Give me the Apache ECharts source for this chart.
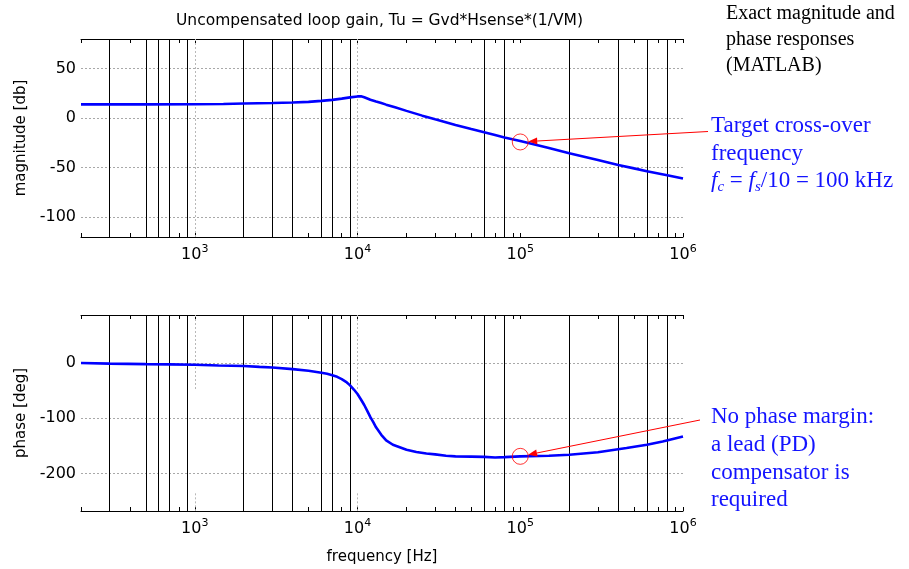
<!DOCTYPE html>
<html><head><meta charset="utf-8">
<script src="https://cdn.jsdelivr.net/npm/echarts@6/dist/echarts.min.js"></script>
<style>html,body{margin:0;padding:0;background:#fff}#c{width:909px;height:569px}</style>
</head><body><div id="c"></div>
<script>
// ---- data ----
const magFreq = [200, 500, 1000, 1500, 2000, 3000, 4000, 5000, 6000, 7000, 8000, 9000, 10000, 10500, 11000, 12000, 13000, 14000, 15000, 17000, 20000, 25000, 30000, 40000, 50000, 60000, 70000, 80000, 100000, 150000, 200000, 300000, 400000, 500000, 600000, 800000, 1000000];
const magDb   = [14, 14, 14.1, 14.3, 14.8, 15.3, 15.8, 16.5, 17.5, 18.5, 19.8, 21, 22, 22.2, 21.2, 18.7, 16.9, 15.3, 13.7, 11, 7.4, 2.6, -1.1, -6.8, -10.9, -14.2, -17, -19.4, -23, -30, -35.3, -42.2, -47.2, -50.7, -53.5, -57.6, -61];
const phaseFreq = [200, 300, 500, 700, 1000, 1400, 2000, 2500, 3000, 4000, 5000, 6000, 6500, 7000, 7500, 8000, 8500, 9000, 9500, 10000, 10500, 11000, 11500, 12000, 12500, 13000, 14000, 15000, 16500, 18000, 20000, 23000, 26500, 30000, 35000, 40000, 50000, 60000, 70000, 80000, 100000, 150000, 200000, 300000, 450000, 600000, 750000, 1000000];
const phaseDeg  = [0, -1, -2, -2.5, -3, -4.5, -5.5, -7, -8, -11, -14, -17.5, -19.5, -22, -25, -29, -34, -40.5, -48, -56, -66, -76, -87, -98, -107, -116.5, -130, -140, -148, -152, -157, -161, -164, -165.5, -168, -169, -169.5, -170, -171, -170.5, -169, -168, -166, -161.5, -154, -148, -142, -133];

const decadeTicks = [1000, 10000, 100000, 1000000];
const minorTicks = [200, 300, 400, 500, 600, 700, 800, 900, 1000,
  2000, 3000, 4000, 5000, 6000, 7000, 8000, 9000, 10000,
  20000, 30000, 40000, 50000, 60000, 70000, 80000, 90000, 100000,
  200000, 300000, 400000, 500000, 600000, 700000, 800000, 900000, 1000000];
const blackLineFreqs = [300, 500, 600, 700, 900, 2000, 3000, 4000, 6000, 7000, 9000, 60000, 80000, 200000, 400000, 600000, 800000];
const magTicks = [-100, -50, 0, 50];
const phaseTicks = [-200, -100, 0];
const magRange = [-120, 80];
const phaseRange = [-268, 87];
const crossMag = [100000, -24];
const crossPhase = [100000, -169];

const titleText = 'Uncompensated loop gain, Tu = Gvd*Hsense*(1/VM)';
const noteTop = 'Exact magnitude and\nphase responses\n(MATLAB)';
const noteMag = 'Target cross-over\nfrequency';
const notePhase = 'No phase margin:\na lead (PD)\ncompensator is\nrequired';

// ---- chart ----
const SANS = 'DejaVu Sans';
const SERIF = 'Liberation Serif';
const BLUE = '#1414ff';
const chart = echarts.init(document.getElementById('c'), null, {renderer: 'canvas'});

function xAxisDef(grid, pos, withLabels, name) {
  return {
    type: 'log', logBase: 10, gridIndex: grid, position: pos, min: 200, max: 1000000,
    name: name || '', nameLocation: 'middle', nameGap: 39,
    nameTextStyle: {fontFamily: SANS, fontSize: 15, color: '#000'},
    axisLine: {show: true, onZero: false, lineStyle: {color: '#000', width: 1}},
    axisTick: {show: true, inside: true, length: 4, customValues: minorTicks, lineStyle: {color: '#000'}},
    axisLabel: {
      show: withLabels, customValues: decadeTicks, margin: 7,
      formatter: v => '{b|10}{s|' + Math.round(Math.log10(v)) + '}',
      rich: {
        b: {fontFamily: SANS, fontSize: 16, color: '#000', lineHeight: 22},
        s: {fontFamily: SANS, fontSize: 11, color: '#000', lineHeight: 11, verticalAlign: 'top'}
      }
    },
    splitLine: {show: false}, minorTick: {show: false}
  };
}
function yAxisDef(grid, range, ticks, name) {
  return {
    type: 'value', gridIndex: grid, min: range[0], max: range[1],
    name: name, nameLocation: 'middle', nameGap: 47,
    nameTextStyle: {fontFamily: SANS, fontSize: 15, color: '#000'},
    axisLine: {show: false}, axisTick: {show: false, customValues: ticks},
    axisLabel: {customValues: ticks, fontFamily: SANS, fontSize: 16, color: '#000', margin: 5},
    splitLine: {show: true, lineStyle: {color: '#a8a8a8', type: [2, 2], width: 1}}
  };
}
const dotted = {color: '#b8b8b8', type: [2, 2], width: 1};
function blackLines() {
  return blackLineFreqs.map(f => ({xAxis: f}));
}

const option = {
  animation: false,
  backgroundColor: '#fff',
  title: {text: titleText, left: 171, top: 8,
    textStyle: {fontFamily: SANS, fontSize: 15.5, fontWeight: 'normal', color: '#000'}},
  grid: [
    {left: 81, top: 39, width: 602, height: 198},
    {left: 81, top: 315, width: 602, height: 196}
  ],
  xAxis: [
    xAxisDef(0, 'bottom', true),
    xAxisDef(0, 'top', false),
    xAxisDef(1, 'bottom', true, 'frequency [Hz]'),
    xAxisDef(1, 'top', false)
  ],
  yAxis: [
    yAxisDef(0, magRange, magTicks, 'magnitude [db]'),
    yAxisDef(1, phaseRange, phaseTicks, 'phase [deg]')
  ],
  series: [
    {
      type: 'line', xAxisIndex: 0, yAxisIndex: 0, showSymbol: false,
      data: magFreq.map((f, i) => [f, magDb[i]]),
      lineStyle: {color: '#0000ff', width: 2.6}, z: 5,
      markLine: {
        silent: true, symbol: ['none', 'none'], label: {show: false},
        lineStyle: {color: '#000', width: 1, type: 'solid'},
        data: blackLines().concat(
          decadeTicks.slice(0, 2).map(f => ({xAxis: f, lineStyle: dotted})))
      }
    },
    {
      type: 'line', xAxisIndex: 2, yAxisIndex: 1, showSymbol: false,
      data: phaseFreq.map((f, i) => [f, phaseDeg[i]]),
      lineStyle: {color: '#0000ff', width: 2.6}, z: 5,
      markLine: {
        silent: true, symbol: ['none', 'none'], label: {show: false},
        lineStyle: {color: '#000', width: 1, type: 'solid'},
        data: blackLines().concat(
          decadeTicks.slice(0, 2).map(f => [{coord: [f, phaseRange[1]], lineStyle: dotted}, {coord: [f, -48]}]),
          decadeTicks.slice(0, 2).map(f => [{coord: [f, -236], lineStyle: dotted}, {coord: [f, phaseRange[0]]}]))
      }
    },
    {
      type: 'scatter', xAxisIndex: 0, yAxisIndex: 0, data: [crossMag], symbol: 'circle', symbolSize: 16, z: 10,
      itemStyle: {color: 'rgba(0,0,0,0)', borderColor: '#ff0000', borderWidth: 1}, silent: true
    },
    {
      type: 'scatter', xAxisIndex: 2, yAxisIndex: 1, data: [crossPhase], symbol: 'circle', symbolSize: 16, z: 10,
      itemStyle: {color: 'rgba(0,0,0,0)', borderColor: '#ff0000', borderWidth: 1}, silent: true
    }
  ]
};
chart.setOption(option);

function arrow(center, start) {
  const dx = start[0] - center[0], dy = start[1] - center[1];
  const L = Math.hypot(dx, dy), ux = dx / L, uy = dy / L;
  const r = 8, tip = [center[0] + ux * r, center[1] + uy * r];
  const base = [tip[0] + ux * 9, tip[1] + uy * 9];
  const px = -uy, py = ux;
  return [
    {type: 'line', shape: {x1: start[0], y1: start[1], x2: base[0], y2: base[1]}, style: {stroke: '#ff0000', lineWidth: 1}, z: 20},
    {type: 'polygon', shape: {points: [tip, [base[0] + px * 3.5, base[1] + py * 3.5], [base[0] - px * 3.5, base[1] - py * 3.5]]}, style: {fill: '#ff0000'}, z: 20}
  ];
}
const cMag = chart.convertToPixel({seriesIndex: 2}, crossMag);
const cPh = chart.convertToPixel({seriesIndex: 3}, crossPhase);

chart.setOption({
  graphic: [
    {type: 'text', left: 726, top: 1, style: {text: noteTop, font: '20px "Liberation Serif"', fill: '#000', lineHeight: 26}},
    {type: 'text', left: 711, top: 112, style: {text: noteMag, font: '23px "Liberation Serif"', fill: BLUE, lineHeight: 28.3}},
    {type: 'text', left: 711, top: 169, style: {
      text: '{i|f}{sub|c}{n| = }{i|f}{sub|s}{n|/10 = 100 kHz}',
      rich: {
        i: {fontFamily: SERIF, fontSize: 23, fontStyle: 'italic', fill: BLUE, color: BLUE, lineHeight: 28},
        sub: {fontFamily: SERIF, fontSize: 15, fontStyle: 'italic', fill: BLUE, color: BLUE, lineHeight: 12, verticalAlign: 'bottom'},
        n: {fontFamily: SERIF, fontSize: 23, fill: BLUE, color: BLUE, lineHeight: 28}
      }}},
    {type: 'text', left: 711, top: 403, style: {text: notePhase, font: '23px "Liberation Serif"', fill: BLUE, lineHeight: 27.8}}
  ].concat(arrow(cMag, [708, 131.5]), arrow(cPh, [700, 420]))
});
</script></body></html>
